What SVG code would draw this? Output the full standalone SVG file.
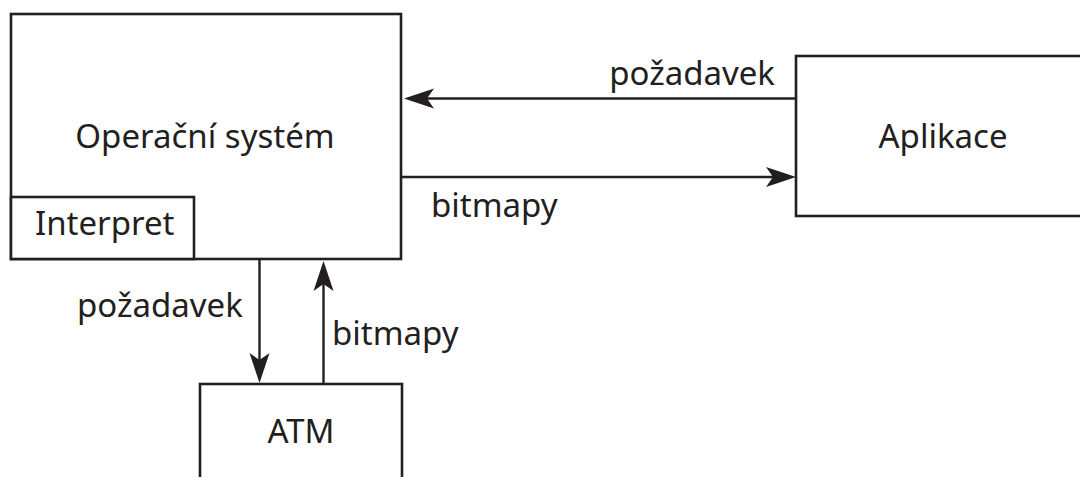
<svg xmlns="http://www.w3.org/2000/svg" width="1080" height="477" viewBox="0 0 1080 477">
<style>
.box{fill:#fff;stroke:#231f20;stroke-width:2.6}
.ln{fill:none;stroke:#231f20;stroke-width:2.4;marker-end:url(#ah)}
text{font-family:"Noto Sans","Open Sans",sans-serif;font-size:33px;fill:#231f20}
.c{text-anchor:middle}
.e{text-anchor:end}
</style>
<defs>
<marker id="ah" markerUnits="userSpaceOnUse" markerWidth="32" markerHeight="22" refX="22" refY="10" orient="auto" overflow="visible">
<path d="M30,10 L0,0 L7,10 L0,20 Z" fill="#231f20"/>
</marker>
</defs>
<rect width="1080" height="477" fill="#fff"/>
<g id="os">
<rect class="box" x="11" y="14" width="390" height="245"/>
<text class="c" x="205" y="148">Operační systém</text>
</g>
<g id="interpret">
<rect class="box" x="11" y="197" width="183" height="62"/>
<text x="35" y="235">Interpret</text>
</g>
<g id="aplikace">
<rect class="box" x="796" y="56" width="300" height="160"/>
<text class="c" x="943" y="148">Aplikace</text>
</g>
<g id="atm">
<rect class="box" x="200" y="384" width="202" height="110"/>
<text class="c" x="301" y="443">ATM</text>
</g>
<g id="connectors">
<line class="ln" x1="796" y1="98.5" x2="412" y2="98.5"/>
<line class="ln" x1="401" y1="177" x2="788" y2="177"/>
<line class="ln" x1="259.5" y1="259" x2="259.5" y2="375"/>
<line class="ln" x1="323.5" y1="384" x2="323.5" y2="269"/>
</g>
<g id="labels">
<text class="e" x="775" y="85">požadavek</text>
<text x="431" y="217">bitmapy</text>
<text x="77" y="317">požadavek</text>
<text x="332" y="345">bitmapy</text>
</g>
</svg>
